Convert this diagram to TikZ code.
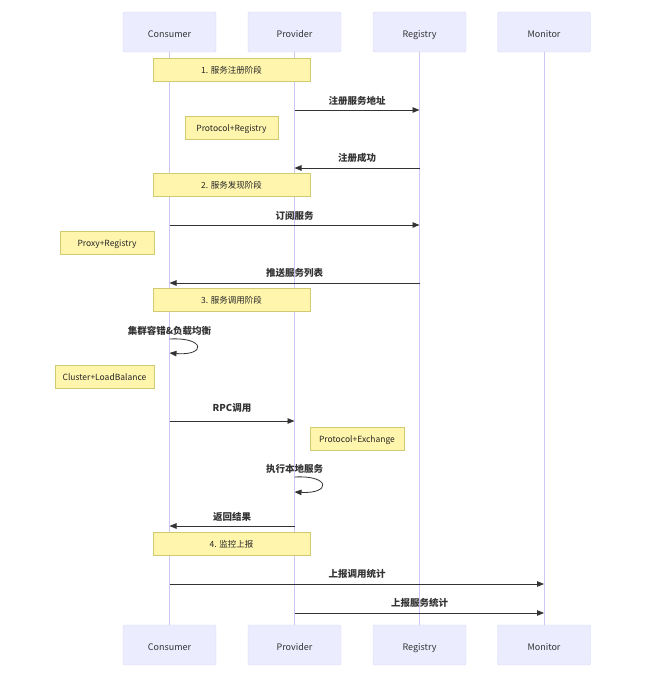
\documentclass[tikz,border=0pt]{standalone}
\usepackage{fontspec}
\setmainfont{Noto Sans CJK SC}
\usetikzlibrary{arrows.meta}

\definecolor{actorfill}{HTML}{ECECFF}
\definecolor{actorline}{HTML}{D6D6F8}
\definecolor{lifeline}{HTML}{CFC4F4}
\definecolor{notefill}{HTML}{FFF5AD}
\definecolor{noteline}{HTML}{CFCB70}
\definecolor{msgline}{HTML}{333333}

\tikzset{
    actor/.style={draw=actorline, fill=actorfill, rounded corners=1.5pt, minimum width=93pt, minimum height=40pt, inner sep=0pt, text height=10.5pt, text depth=0pt, font=\fontsize{9}{11}\selectfont, text=black!80},
    note/.style={draw=noteline, fill=notefill, minimum height=23pt, inner sep=0pt, text height=7.5pt, text depth=0pt, font=\fontsize{8.5}{10}\selectfont, text=black!85},
    life/.style={draw=lifeline, line width=0.7pt},
    msg/.style={draw=msgline, line width=0.8pt, -{Triangle[length=7pt,width=5.5pt]}},
    msglabel/.style={font=\bfseries\fontsize{9.5}{11}\selectfont, text=black!80, yshift=-1pt},
}

\begin{document}
\begin{tikzpicture}[x=1pt, y=-1pt]
        \useasboundingbox (0, 0) rectangle (659, 681);

        % lifelines and actors
        \foreach \name/\label/\x in {cons/Consumer/169.5, prov/Provider/294.5, reg/Registry/419.5, mon/Monitor/544} {
            \node[actor] (\name top) at (\x, 32) {\label};
            \node[actor] (\name bot) at (\x, 645) {\label};
            \draw[life] (\name top.south) -- (\name bot.north);
        }

        % 1. registration
        \node[note, minimum width=157pt] (phase1) at (231.5, 70) {1. 服务注册阶段};
        \draw[msg] (provtop.south |- 0, 110) -- (regtop.south |- 0, 110);
        \node[msglabel] (m1) at (357, 100) {注册服务地址};
        \node[note, minimum width=93pt] (n1) at (231.5, 127.5) {Protocol+Registry};
        \draw[msg] (regtop.south |- 0, 168) -- (provtop.south |- 0, 168);
        \node[msglabel] (m2) at (357, 157) {注册成功};

        % 2. discovery
        \node[note, minimum width=157pt] (phase2) at (231.5, 185) {2. 服务发现阶段};
        \draw[msg] (constop.south |- 0, 225) -- (regtop.south |- 0, 225);
        \node[msglabel] (m3) at (294.5, 215) {订阅服务};
        \node[note, minimum width=94pt] (n2) at (107, 242.5) {Proxy+Registry};
        \draw[msg] (regtop.south |- 0, 283) -- (constop.south |- 0, 283);
        \node[msglabel] (m4) at (294.5, 272) {推送服务列表};

        % 3. invocation
        \node[note, minimum width=157pt] (phase3) at (231.5, 300) {3. 服务调用阶段};
        \coordinate (c1) at (constop.south |- 0, 339);
        \coordinate (c2) at (constop.south |- 0, 353);
        \draw[msg] (c1) .. controls (206, 337) and (206, 356) .. (c2);
        \node[msglabel] (m5) at (169.5, 330) {集群容错\&负载均衡};
        \node[note, minimum width=99pt] (n3) at (104.5, 376.5) {Cluster+LoadBalance};
        \draw[msg] (constop.south |- 0, 421) -- (provtop.south |- 0, 421);
        \node[msglabel] (m6) at (232, 407) {RPC调用};
        \node[note, minimum width=94pt] (n4) at (357, 438.5) {Protocol+Exchange};
        \coordinate (p1) at (provtop.south |- 0, 477);
        \coordinate (p2) at (provtop.south |- 0, 492);
        \draw[msg] (p1) .. controls (331, 475) and (331, 494) .. (p2);
        \node[msglabel] (m7) at (294.5, 468) {执行本地服务};
        \draw[msg] (provtop.south |- 0, 526) -- (constop.south |- 0, 526);
        \node[msglabel] (m8) at (232, 516) {返回结果};

        % 4. monitoring
        \node[note, minimum width=157pt] (phase4) at (231.5, 543.5) {4. 监控上报};
        \draw[msg] (constop.south |- 0, 584) -- (montop.south |- 0, 584);
        \node[msglabel] (m9) at (357, 573) {上报调用统计};
        \draw[msg] (provtop.south |- 0, 613) -- (montop.south |- 0, 613);
        \node[msglabel] (m10) at (419.5, 602) {上报服务统计};
    \end{tikzpicture}
\end{document}
